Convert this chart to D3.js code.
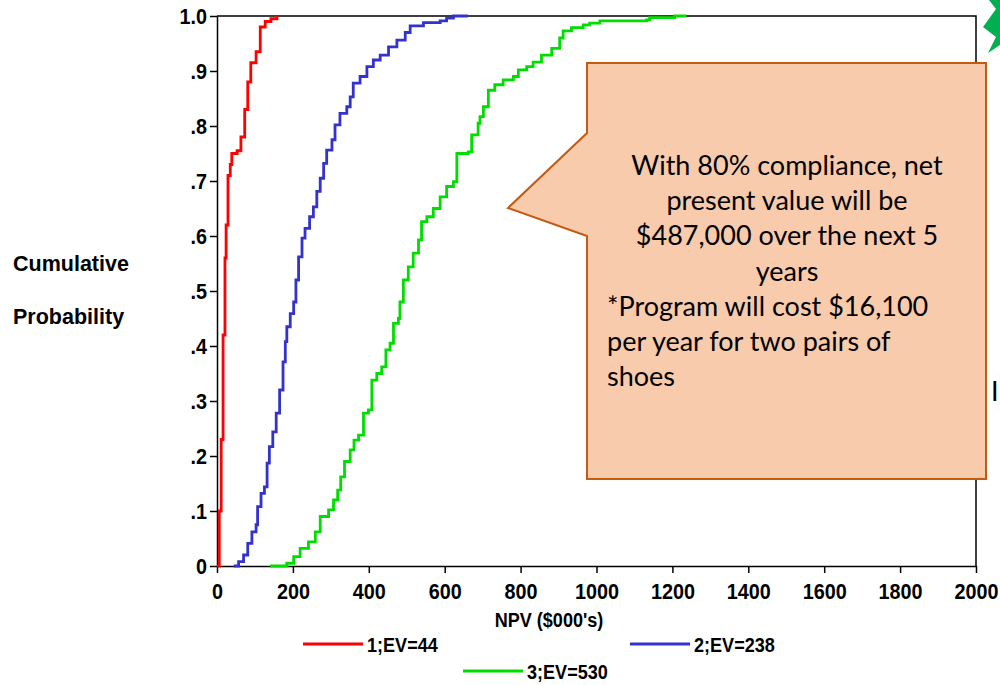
<!DOCTYPE html>
<html>
<head>
    <script src="https://d3js.org/d3.v7.min.js"></script>
    <style>
        body { margin: 0; background: #fff; }
        .tick text { font-family: "Liberation Sans", Arial, sans-serif; font-weight: bold; font-size: 22px; fill: #000; }
        .lbl { font-family: "Liberation Sans", Arial, sans-serif; font-weight: bold; fill: #000; }
        .note { font-family: Lato, "Open Sans", sans-serif; font-size: 27px; fill: #000; }
    </style>
</head>
<body>
<div id="chart"></div>
<script>
// NPV values ($000's) where each step occurs, and cumulative probability after the step
const redNpv   = [0, 6, 11, 16, 21, 24, 29, 35, 39, 53, 63, 73, 81, 89, 103, 114, 127, 142, 158];
const redProb  = [0, 0.10, 0.23, 0.42, 0.56, 0.62, 0.71, 0.73, 0.75, 0.755, 0.78, 0.83, 0.88, 0.915, 0.935, 0.98, 0.99, 0.995, 1.0];

const blueNpv  = [44, 57, 70, 81, 92, 103, 107, 116, 125, 132, 138, 147, 156, 165, 174, 180, 184, 193, 202, 208,
                  215, 224, 232, 244, 254, 263, 272, 281, 289, 303, 311, 324, 342, 351, 359, 377, 395, 412, 430,
                  452, 474, 496, 509, 544, 588, 605, 623, 661];
const blueProb = [0, 0.008, 0.02, 0.041, 0.062, 0.075, 0.108, 0.132, 0.144, 0.187, 0.217, 0.244, 0.278, 0.32, 0.371,
                  0.408, 0.435, 0.459, 0.48, 0.52, 0.562, 0.596, 0.614, 0.635, 0.653, 0.681, 0.705, 0.732, 0.756,
                  0.775, 0.802, 0.823, 0.835, 0.853, 0.878, 0.89, 0.908, 0.92, 0.929, 0.944, 0.956, 0.97, 0.982,
                  0.988, 0.991, 0.996, 1.0, 1.0];

const greenNpv  = [140, 184, 202, 219, 241, 259, 272, 294, 307, 318, 326, 336, 351, 361, 373, 386, 399, 408, 421, 434,
                   445, 456, 465, 478, 482, 491, 504, 517, 531, 539, 553, 570, 588, 605, 623, 632, 662, 671, 688,
                   693, 702, 715, 732, 754, 781, 794, 816, 833, 855, 882, 903, 912, 934, 965, 982, 1009, 1132, 1140,
                   1206, 1237];
const greenProb = [0, 0.005, 0.017, 0.032, 0.044, 0.062, 0.09, 0.102, 0.12, 0.138, 0.162, 0.19, 0.211, 0.229, 0.238,
                   0.278, 0.284, 0.338, 0.35, 0.362, 0.393, 0.405, 0.441, 0.45, 0.48, 0.52, 0.544, 0.569, 0.593,
                   0.626, 0.635, 0.65, 0.671, 0.69, 0.699, 0.75, 0.753, 0.784, 0.805, 0.817, 0.835, 0.865, 0.875,
                   0.884, 0.89, 0.902, 0.908, 0.916, 0.929, 0.941, 0.96, 0.973, 0.979, 0.984, 0.987, 0.991, 0.993,
                   0.997, 1.0, 1.0];

const seriesNames = ["1;EV=44", "2;EV=238", "3;EV=530"];
const seriesColors = ["#ff0000", "#3333cc", "#00dd00"];
const xTicks = [0, 200, 400, 600, 800, 1000, 1200, 1400, 1600, 1800, 2000];
const yTicks = [0, 0.1, 0.2, 0.3, 0.4, 0.5, 0.6, 0.7, 0.8, 0.9, 1.0];
const noteLines = ["With 80% compliance, net", "present value will be", "$487,000 over the next 5", "years",
                   "*Program will cost $16,100", "per year for two pairs of", "shoes"];

const width = 1000, height = 685;
const margin = { top: 16, right: 24, bottom: 119, left: 217 };

const svg = d3.select("#chart").append("svg")
    .attr("width", width)
    .attr("height", height);

const x = d3.scaleLinear().domain([0, 2000]).range([margin.left, width - margin.right]);
const y = d3.scaleLinear().domain([0, 1]).range([height - margin.bottom, margin.top]);

// frame on top and right
svg.append("path")
    .attr("d", `M${x(0)},${y(1)}H${x(2000)}V${y(0)}`)
    .attr("fill", "none")
    .attr("stroke", "#000")
    .attr("stroke-width", 1.5);

// the export uses a slightly condensed bold face, so squeeze tick labels horizontally
svg.append("g")
    .attr("transform", `translate(0,${y(0)})`)
    .call(d3.axisBottom(x).tickValues(xTicks).tickSize(7).tickSizeOuter(0).tickFormat(d3.format("d")))
    .call(g => g.select(".domain").attr("stroke-width", 1.5))
    .call(g => g.selectAll(".tick line").attr("stroke-width", 1.5))
    .call(g => g.selectAll(".tick text")
        .attr("y", null).attr("dy", null)
        .attr("transform", "translate(0,33) scale(0.9,1)"));

svg.append("g")
    .attr("transform", `translate(${x(0)},0)`)
    .call(d3.axisLeft(y).tickValues(yTicks).tickSize(7).tickSizeOuter(0)
        .tickFormat(d => d === 0 ? "0" : d === 1 ? "1.0" : d3.format(".1f")(d).replace(/^0/, "")))
    .call(g => g.select(".domain").attr("stroke-width", 1.5))
    .call(g => g.selectAll(".tick line").attr("stroke-width", 1.5))
    .call(g => g.selectAll(".tick text")
        .attr("x", null).attr("dy", "0.36em")
        .attr("transform", "translate(-10,0) scale(0.9,1)"));

const line = d3.line()
    .x(d => x(d[0]))
    .y(d => y(d[1]))
    .curve(d3.curveStepAfter);

const series = [
    d3.zip(redNpv, redProb),
    d3.zip(blueNpv, blueProb),
    d3.zip(greenNpv, greenProb)
];

series.forEach((s, i) => {
    svg.append("path")
        .datum(s)
        .attr("d", line)
        .attr("fill", "none")
        .attr("stroke", seriesColors[i])
        .attr("stroke-width", 2.8);
});

function narrowText(tx, ty, t, anchor) {
    return svg.append("text").attr("class", "lbl")
        .attr("transform", `translate(${tx},${ty}) scale(0.86,1)`)
        .attr("text-anchor", anchor || "start")
        .attr("font-size", 21)
        .text(t);
}

// axis titles
narrowText(549, 627, "NPV ($000's)", "middle");
svg.append("text").attr("class", "lbl").attr("x", 13).attr("y", 271)
    .attr("font-size", 21.5).text("Cumulative");
svg.append("text").attr("class", "lbl").attr("x", 13).attr("y", 324)
    .attr("font-size", 21.5).text("Probability");

// legend
const legendPos = [[303, 644], [630, 644], [463, 671]];
seriesNames.forEach((name, i) => {
    const [lx, ly] = legendPos[i];
    svg.append("line")
        .attr("x1", lx).attr("x2", lx + 60)
        .attr("y1", ly).attr("y2", ly)
        .attr("stroke", seriesColors[i]).attr("stroke-width", 3);
    narrowText(lx + 64, ly + 7.5, name);
});

// callout
svg.append("path")
    .attr("d", "M587,63H986V479H587V236L508,208L587,133Z")
    .attr("fill", "#f8cbad")
    .attr("stroke", "#c55a11")
    .attr("stroke-width", 2);

noteLines.forEach((t, i) => {
    const centered = i < 4;
    svg.append("text").attr("class", "note")
        .attr("x", centered ? 787 : 607)
        .attr("y", 175 + i * 35.2)
        .attr("text-anchor", centered ? "middle" : "start")
        .text(t);
});

// shape and letter peeking in at the right edge of the slide
svg.append("path")
    .attr("d", "M1000,0H989L996,9L983,27L996,37L988,53L1000,45Z")
    .attr("fill", "#00b050");
svg.append("text").attr("class", "note").attr("x", 991).attr("y", 401)
    .attr("font-size", 20).attr("fill", "#222").text("I");
</script>
</body>
</html>
